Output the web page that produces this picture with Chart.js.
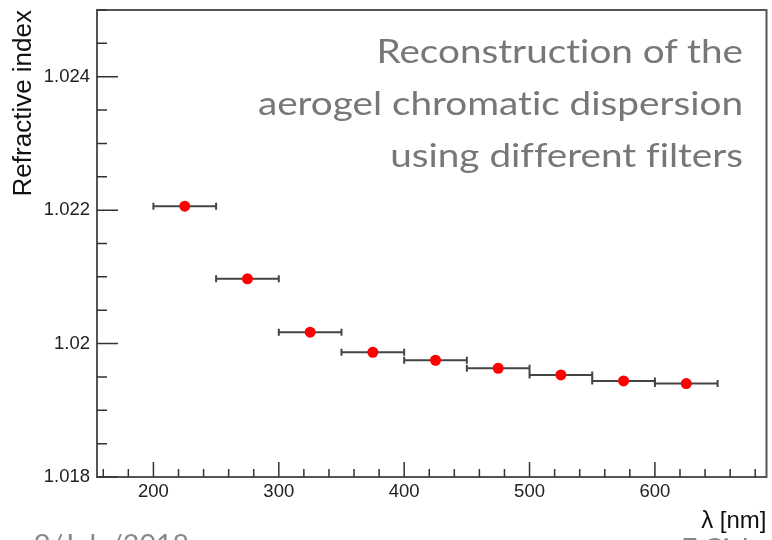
<!DOCTYPE html>
<html>
<head>
<meta charset="utf-8">
<script src="https://cdn.jsdelivr.net/npm/chart.js@4.4.0/dist/chart.umd.min.js"></script>
<style>
  html, body { margin: 0; padding: 0; background: #fff; }
  #wrap { position: relative; width: 772px; height: 540px; overflow: hidden; }
  #note { position: absolute; right: 29px; top: 24px; font: 33.5px/52px Lato, sans-serif; color: #777;
          text-align: right; white-space: nowrap; font-variant-ligatures: none;
          transform: scaleX(1.155); transform-origin: right top; }
  .foot { position: absolute; font: 26px/1 Lato, sans-serif; color: #888; white-space: nowrap;
          transform: scaleX(1.1); transform-origin: left top; }
</style>
</head>
<body>
<div id="wrap">
  <canvas id="c" width="772" height="540"></canvas>
  <div id="note">Reconstruction of the<br>aerogel chromatic dispersion<br>using different filters</div>
  <div class="foot" style="left:34px; top:531px">9/July/2018</div>
  <div class="foot" style="left:681px; top:535px">E.Cisbani</div>
</div>
<script>
// filter centres and bandwidth (nm), measured refractive index
const wavelengths = [225, 275, 325, 375, 425, 475, 525, 575, 625];
const filterLow   = [200, 250, 300, 350, 400, 450, 500, 550, 600];
const filterHigh  = [250, 300, 350, 400, 450, 500, 550, 600, 650];
const refIndex    = [1.02206, 1.02097, 1.02017, 1.01987, 1.01975, 1.01963, 1.01953, 1.01944, 1.01940];

// axis ticks
const xMajorTicks = [200, 300, 400, 500, 600];
const xTickLabels = ['200', '300', '400', '500', '600'];
const yMajorTicks = [1.018, 1.020, 1.022, 1.024];
const yTickLabels = ['1.018', '1.02', '1.022', '1.024'];

const FONT = 'Liberation Sans, Arial, Helvetica, sans-serif';
Chart.defaults.font.family = FONT;

// minor tick positions (every 20 nm / every 0.0005)
const xTicks = [];
for (let v = 160; v <= 680; v += 20) xTicks.push(v);
const yTicks = [];
for (let i = 0; i <= 14; i++) yTicks.push(Math.round((1.018 + i * 0.0005) * 1e4) / 1e4);

const isMajor = (list, v) => list.findIndex(t => Math.abs(t - v) < 1e-7);

// ROOT-like frame, inward ticks and horizontal error bars
const frameAndBars = {
  id: 'frameAndBars',
  beforeDatasetsDraw(chart) {
    const {ctx, chartArea: a, scales: {x, y}} = chart;
    ctx.save();

    ctx.strokeStyle = '#444';
    ctx.lineWidth = 2;
    wavelengths.forEach((w, i) => {
      const x0 = x.getPixelForValue(filterLow[i]);
      const x1 = x.getPixelForValue(filterHigh[i]);
      const py = y.getPixelForValue(refIndex[i]);
      ctx.beginPath();
      ctx.moveTo(x0, py); ctx.lineTo(x1, py);
      ctx.moveTo(x0, py - 3.5); ctx.lineTo(x0, py + 3.5);
      ctx.moveTo(x1, py - 3.5); ctx.lineTo(x1, py + 3.5);
      ctx.stroke();
    });

    ctx.strokeStyle = '#555';
    ctx.lineWidth = 2;
    ctx.strokeRect(a.left, a.top, a.right - a.left, a.bottom - a.top);

    ctx.strokeStyle = '#333';
    ctx.lineWidth = 1.5;
    ctx.beginPath();
    x.ticks.forEach(t => {
      const px = x.getPixelForValue(t.value);
      const len = isMajor(xMajorTicks, t.value) >= 0 ? 15 : 8;
      ctx.moveTo(px, a.bottom); ctx.lineTo(px, a.bottom - len);
    });
    y.ticks.forEach(t => {
      const py = y.getPixelForValue(t.value);
      const len = isMajor(yMajorTicks, t.value) >= 0 ? 21 : 10;
      ctx.moveTo(a.left, py); ctx.lineTo(a.left + len, py);
    });
    ctx.stroke();
    ctx.restore();
  }
};

new Chart(document.getElementById('c'), {
  type: 'scatter',
  data: {
    datasets: [{
      data: wavelengths.map((w, i) => ({x: w, y: refIndex[i]})),
      backgroundColor: '#ff0000',
      borderWidth: 0,
      pointRadius: 5.5
    }]
  },
  options: {
    responsive: false,
    animation: false,
    layout: { padding: { top: 10, right: 2, left: 0, bottom: 0 } },
    plugins: { legend: { display: false }, tooltip: { enabled: false } },
    scales: {
      x: {
        type: 'linear',
        min: 155,
        max: 689,
        afterBuildTicks: s => { s.ticks = xTicks.map(v => ({value: v})); },
        afterFit: s => { s.height = 63; s.paddingLeft = 0; s.paddingRight = 0; },
        grid: { display: false, drawTicks: false },
        border: { display: false },
        ticks: {
          autoSkip: false, maxRotation: 0, padding: 4, color: '#222',
          font: { size: 18.5 },
          callback: v => { const k = isMajor(xMajorTicks, v); return k >= 0 ? xTickLabels[k] : ''; }
        },
        title: {
          display: true, text: 'λ [nm]', align: 'end', color: '#111',
          font: { size: 24 }, padding: { top: 0, bottom: 4 }
        }
      },
      y: {
        type: 'linear',
        min: 1.018,
        max: 1.025,
        afterBuildTicks: s => { s.ticks = yTicks.map(v => ({value: v})); },
        afterFit: s => { s.width = 97; s.paddingTop = 0; s.paddingBottom = 0; },
        grid: { display: false, drawTicks: false },
        border: { display: false },
        ticks: {
          autoSkip: false, padding: 7, color: '#222',
          font: { size: 18.5 },
          callback: v => { const k = isMajor(yMajorTicks, v); return k >= 0 ? yTickLabels[k] : ''; }
        },
        title: {
          display: true, text: 'Refractive index', align: 'end', color: '#111',
          font: { size: 26 }, padding: { top: 8, bottom: 0 }
        }
      }
    }
  },
  plugins: [frameAndBars]
});
</script>
</body>
</html>
